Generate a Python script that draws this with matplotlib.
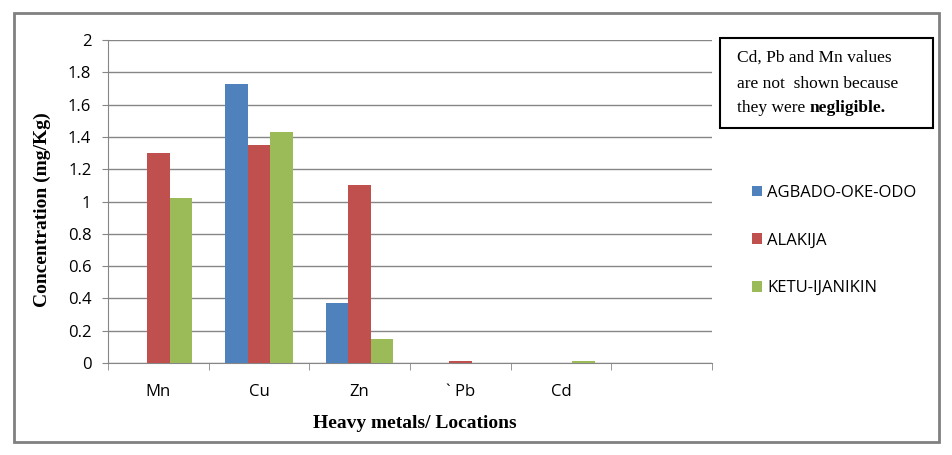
import numpy as np
import matplotlib.pyplot as plt
from matplotlib.patches import Rectangle

metals = ['Mn', 'Cu', 'Zn', '` Pb', 'Cd', '']
locations = ['AGBADO-OKE-ODO', 'ALAKIJA', 'KETU-IJANIKIN']
agbado = [0.0, 1.73, 0.37, 0.0, 0.0, 0.0]
alakija = [1.30, 1.35, 1.10, 0.01, 0.0, 0.0]
ketu = [1.02, 1.43, 0.15, 0.0, 0.01, 0.0]
colors = ['#4f81bd', '#c0504d', '#9bbb59']
yticks = [0, 0.2, 0.4, 0.6, 0.8, 1, 1.2, 1.4, 1.6, 1.8, 2]
ytick_labels = ['0', '0.2', '0.4', '0.6', '0.8', '1', '1.2', '1.4', '1.6', '1.8', '2']

fig = plt.figure(figsize=(9.53, 4.55), dpi=100)
ax = fig.add_axes([108/953, 1 - 363/455, 604/953, 323/455])

# outer chart frame like the excel chart area
fig.patches.append(Rectangle((14/953, 1 - 442/455), 925/953, 429/455,
                             transform=fig.transFigure, fill=False,
                             edgecolor='#808080', linewidth=2))

x = np.arange(len(metals))
w = 1 / 4.5
for i, (vals, name) in enumerate(zip([agbado, alakija, ketu], locations)):
    ax.bar(x + (i - 1) * w, vals, width=w, color=colors[i], label=name, zorder=3)

ax.set_xlim(-0.5, len(metals) - 0.5)
ax.set_ylim(0, 2)
ax.set_yticks(yticks)
ax.set_yticklabels(ytick_labels)
ax.set_xticks(x)
ax.set_xticklabels(metals)
ax.set_xticks(np.arange(len(metals) + 1) - 0.5, minor=True)
ax.tick_params(axis='x', which='major', length=0, pad=15)
ax.tick_params(axis='x', which='minor', length=5, color='#868686', direction='out')
ax.tick_params(axis='y', length=4, color='#868686', pad=8)
for lab in ax.get_xticklabels() + ax.get_yticklabels():
    lab.set_fontfamily('Open Sans')
    lab.set_fontsize(12)

ax.grid(axis='y', color='#868686', linewidth=1, zorder=0)
for s in ['top', 'right']:
    ax.spines[s].set_visible(False)
ax.spines['left'].set_color('#868686')
ax.spines['bottom'].set_color('#868686')

fig.text(42/953, 1 - 210/455, 'Concentration (mg/Kg)', fontfamily='Liberation Serif',
         fontweight='bold', fontsize=14, rotation=90, ha='center', va='center')
fig.text(415/953, 1 - 423/455, 'Heavy metals/ Locations', fontfamily='Liberation Serif',
         fontweight='bold', fontsize=14, ha='center', va='center')

leg = fig.legend(loc='upper left', bbox_to_anchor=(737/953, 1 - 170/455),
                 frameon=False, prop={'family': 'Open Sans', 'size': 12},
                 handlelength=0.6, handleheight=0.6, handletextpad=0.3,
                 labelspacing=1.9)

fig.patches.append(Rectangle((720/953, 1 - 128/455), 213/953, 90/455,
                             transform=fig.transFigure, fill=False,
                             edgecolor='black', linewidth=1.5))
fig.text(737/953, 1 - 58/455, 'Cd, Pb and Mn values', fontfamily='Liberation Serif',
         fontsize=12.5, va='center')
fig.text(737/953, 1 - 84/455, 'are not  shown because', fontfamily='Liberation Serif',
         fontsize=12.5, va='center')
t = fig.text(737/953, 1 - 108/455, 'they were ', fontfamily='Liberation Serif',
             fontsize=12.5, va='center')
fig.canvas.draw()
bb = t.get_window_extent().transformed(fig.transFigure.inverted())
fig.text(bb.x1, 1 - 108/455, 'negligible.', fontfamily='Liberation Serif',
         fontsize=12.5, fontweight='bold', va='center')

fig.savefig('out.png', dpi=100)
